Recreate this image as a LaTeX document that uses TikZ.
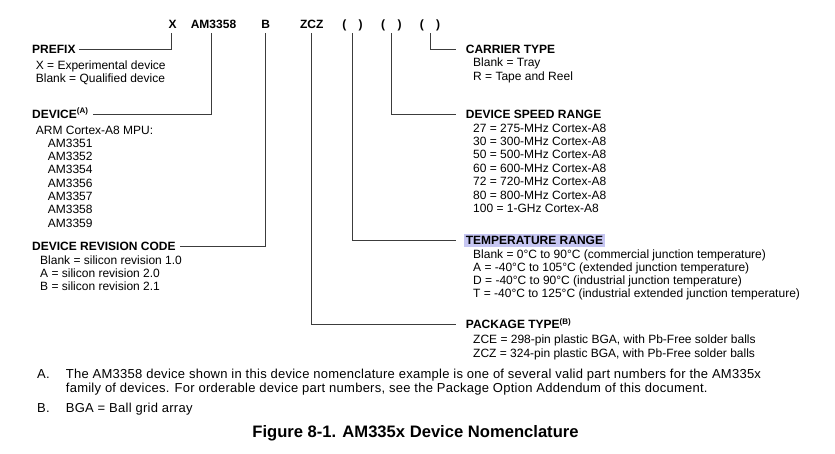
\documentclass[tikz,border=0pt]{standalone}
\usepackage{fontspec}
\setmainfont{Liberation Sans}
\newfontfamily\notefont[LetterSpace=2]{Liberation Sans}
\usetikzlibrary{positioning}
\definecolor{lineGray}{RGB}{60,60,60}
\definecolor{markBlue}{RGB}{198,198,242}
\newcommand{\bodysize}{\fontsize{12}{13.33}\selectfont}
\newcommand{\supnote}[1]{\textsuperscript{#1}}
\tikzset{
    code/.style={font=\bodysize\bfseries, text depth=0pt, inner xsep=0pt, inner ysep=4pt, anchor=base},
    head/.style={font=\bodysize\bfseries, text height=8.6pt, text depth=0pt, inner sep=0pt, anchor=base west},
    item/.style={font=\bodysize, inner sep=0pt, anchor=base west},
    conn/.style={draw=lineGray, line width=0.8pt},
    note/.style={font=\notefont\fontsize{13}{15}\selectfont, inner sep=0pt, anchor=base west}
}

\begin{document}
\begin{tikzpicture}[x=1pt,y=-1pt]
    \useasboundingbox (0,0) rectangle (835,453);
    % part number
    \node[code] (pre) at (172.5,28.8) {X};
    \node[code] (dev) at (213.5,28.8) {AM3358};
    \node[code] (rev) at (265.8,28.8) {B};
    \node[code] (pkg) at (311.7,28.8) {ZCZ};
    \node[code] (tmp) at (352.5,28.8) {(\hspace{12.5pt})};
    \node[code] (spd) at (391.3,28.8) {(\hspace{12.5pt})};
    \node[code] (car) at (430,28.8) {(\hspace{12.5pt})};
    % left fields
    \node[head] (preH) at (32,53.3) {PREFIX};
    \node[item] (pre1) at (35.7,69.3) {X = Experimental device};
    \node[item] (pre2) at (35.7,82.8) {Blank = Qualified device};
    \node[head] (devH) at (32,118.3) {DEVICE\supnote{(A)}};
    \node[item] (devT) at (35.7,134) {ARM Cortex-A8 MPU:};
    \foreach \t [count=\i from 0] in {AM3351,AM3352,AM3354,AM3356,AM3357,AM3358,AM3359}
        \node[item] (mpu\i) at (47.7,147.3+13.33*\i) {\t};
    \node[head] (revH) at (32,250.3) {DEVICE REVISION CODE};
    \foreach \t [count=\i from 0] in {Blank = silicon revision 1.0,A = silicon revision 2.0,B = silicon revision 2.1}
        \node[item] (rev\i) at (40,264+13.33*\i) {\t};
    % right fields
    \node[head] (carH) at (465.7,53.3) {CARRIER TYPE};
    \node[item] (car1) at (473,66.7) {Blank = Tray};
    \node[item] (car2) at (473,80) {R = Tape and Reel};
    \node[head] (spdH) at (465.7,118.7) {DEVICE SPEED RANGE};
    \foreach \t [count=\i from 0] in {27 = 275-MHz Cortex-A8,30 = 300-MHz Cortex-A8,50 = 500-MHz Cortex-A8,60 = 600-MHz Cortex-A8,72 = 720-MHz Cortex-A8,80 = 800-MHz Cortex-A8,100 = 1-GHz Cortex-A8}
        \node[item] (spd\i) at (473,132+13.4*\i) {\t};
    \node[head, fill=markBlue, inner xsep=2pt, inner ysep=2pt] (tmpH) at (463.7,244.7) {TEMPERATURE RANGE};
    \foreach \t [count=\i from 0] in {Blank = 0°C to 90°C (commercial junction temperature),A = -40°C to 105°C (extended junction temperature),D = -40°C to 90°C (industrial junction temperature),T = -40°C to 125°C (industrial extended junction temperature)}
        \node[item] (tmp\i) at (473,258+13.33*\i) {\t};
    \node[head] (pkgH) at (465.7,328.7) {PACKAGE TYPE\supnote{(B)}};
    \node[item] (pkg1) at (473,343.7) {ZCE = 298-pin plastic BGA, with Pb-Free solder balls};
    \node[item] (pkg2) at (473,357) {ZCZ = 324-pin plastic BGA, with Pb-Free solder balls};
    % connectors
    \draw[conn, shorten >=3.5pt] ([xshift=-0.8pt]pre.south) |- (preH.east);
    \draw[conn, shorten >=4pt] ([xshift=-1.8pt]dev.south) |- (devH.east);
    \draw[conn, shorten >=4pt] (rev.south) |- (revH.east);
    \draw[conn, shorten >=10pt] (pkg.south) |- (pkgH.west);
    \draw[conn, shorten >=8pt] (tmp.south) |- (tmpH.west);
    \draw[conn, shorten >=10pt] (spd.south) |- (spdH.west);
    \draw[conn, shorten >=10pt] (car.south) |- (carH.west);
    % notes
    \node[note] (noteA) at (37,378.3) {A.};
    \node[note] (noteA1) at (65.7,378.3) {The AM3358 device shown in this device nomenclature example is one of several valid part numbers for the AM335x};
    \node[note] (noteA2) at (65.7,392.3) {family of devices. For orderable device part numbers, see the Package Option Addendum of this document.};
    \node[note] (noteB) at (37,412.3) {B.};
    \node[note] (noteB1) at (65.7,412.3) {BGA = Ball grid array};
    \node[font=\bfseries\fontsize{16.6}{18}\selectfont, inner sep=0pt, anchor=base] (caption) at (415.5,437.7) {Figure 8-1. AM335x Device Nomenclature};
\end{tikzpicture}
\end{document}
